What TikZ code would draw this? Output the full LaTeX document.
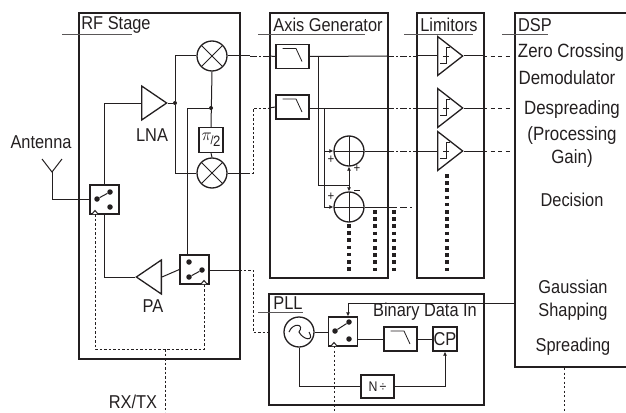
\documentclass[tikz,border=0pt]{standalone}
\usepackage{fontspec}
\setmainfont[FakeStretch=0.88]{Liberation Sans}
\usepackage{xcolor}
\usepackage{tikz}
\usetikzlibrary{arrows.meta,positioning,calc,shapes.geometric}
\definecolor{ink}{HTML}{231F20}
\newcommand{\stepmark}[1]{\draw[line width=0.8pt,shift={(#1.lower side)}] (3,7)--(9,7)--(9,-9)--(13,-9) (6,0)--(12,0);}
\begin{document}
\begin{tikzpicture}[x=1pt,y=-1pt,ink,every node/.style={font=\fontsize{18.6}{20}\selectfont,align=center,text=ink,inner sep=0pt},
stage/.style={draw=ink,line width=2.1pt,anchor=north west},
wire/.style={draw=ink,line width=1pt},
ctrl/.style={draw=ink,line width=0.9pt,dash pattern=on 2.5pt off 2pt},
rule/.style={draw=ink!75,line width=0.9pt},
spots/.style={draw=ink,line width=3.5pt,dash pattern=on 3.5pt off 3.7pt},
tip/.style={-{Latex[length=4pt,width=4pt]}},
part/.style={draw=ink,line width=1.3pt,fill=white},
swbox/.style={part,minimum size=29pt},
swdot/.style={circle,fill=ink,minimum size=5.5pt},
jdot/.style={circle,fill=ink,minimum size=4pt},
filt/.style={part,minimum width=33pt,minimum height=24pt,path picture={\draw[line width=0.8pt,shift={(path picture bounding box.center)}] (-10,-8)--(3.5,-8)--(9.5,5);}},
mixer/.style={circle,part,minimum size=30pt,path picture={\draw[line width=0.8pt,shift={(path picture bounding box.center)}] (-11,-11)--(11,11) (-11,11)--(11,-11);}},
adder/.style={circle,part,fill=none,minimum size=30pt,path picture={\draw[line width=0.8pt,shift={(path picture bounding box.center)}] (-15,0)--(15,0) (0,-15)--(0,15);}},
amp/.style={isosceles triangle,isosceles triangle stretches,draw=ink,line width=1.3pt,fill=white,minimum height=25pt,minimum width=34pt,anchor=lower side},
limit/.style={amp,minimum width=39pt},
dsptext/.style={font=\fontsize{19.2}{22}\selectfont}]
\useasboundingbox (0,0) rectangle (626,412);
% blocks
\node[stage,minimum width=161pt,minimum height=346pt] (rf) at (78,12) {};
\node[stage,minimum width=118pt,minimum height=265pt] (axis) at (269,12) {};
\node[stage,minimum width=67pt,minimum height=265pt] (lim) at (416,12) {};
\node[stage,minimum width=112pt,minimum height=354pt] (dsp) at (514,12) {};
\node[stage,minimum width=215pt,minimum height=111pt] (pll) at (268,293) {};
% titles
\node (rfname) at (116,25) {RF Stage};
\node (axisname) at (328,25) {Axis Generator};
\node (limname) at (449,25) {Limitors};
\node (dspname) at (535,25) {DSP};
\node (pllname) at (288,303) {PLL};
\coordinate (rfa) at (62,34); \coordinate (rfb) at (132,34);
\coordinate (axa) at (258,34); \coordinate (axb) at (365,34);
\coordinate (lia) at (404,34); \coordinate (lib) at (473,34);
\coordinate (dsa) at (502,34); \coordinate (dsb) at (548,34);
\coordinate (pla) at (258,312); \coordinate (plb) at (303,312);
\draw[rule] (rfa)--(rfb);
\draw[rule] (axa)--(axb);
\draw[rule] (lia)--(lib);
\draw[rule] (dsa)--(dsb);
\draw[rule] (pla)--(plb);
% RF parts
\node[mixer] (mixa) at (212,56) {};
\node[mixer] (mixb) at (212,173) {};
\node[part,minimum width=24pt,minimum height=25pt] (shift) at (211,140) {\raisebox{4pt}{\fontsize{16}{16}\selectfont$\pi$}\kern-1pt{\fontsize{12}{12}\selectfont/}\kern-0.5pt\raisebox{-2pt}{\fontsize{15}{15}\selectfont 2}};
\node[amp] (lna) at (141,103) {};
\node[amp,shape border rotate=180] (pa) at (162,277) {};
\node[swbox] (swa) at (104.5,199.5) {};
\node[swbox] (swb) at (194.5,269.5) {};
\node[jdot] (lnadot) at (175,103) {};
\node[jdot] (lodot) at (211,108) {};
\node[swdot] (swaa) at (97,199) {};
\node[swdot] (swab) at (110,192) {};
\node[swdot] (swac) at (110,207) {};
\node[swdot] (swba) at (189,262) {};
\node[swdot] (swbb) at (189,277) {};
\node[swdot] (swbc) at (202,270) {};
\node (antname) at (41,142) {Antenna};
\node (lnaname) at (152,135) {LNA};
\node (paname) at (153,306) {PA};
\node (rxname) at (133,401.5) {RX/TX};
\coordinate (anta) at (42,159); \coordinate (antb) at (52,172); \coordinate (antc) at (62,159);
\coordinate (lobot) at (187,255);
\draw[wire] (anta)--(antb)--(antc);
\draw[wire] (antb)|-(swa.west);
\draw[wire] (swaa)--(swab);
\draw[wire] (swbb)--(swbc);
\draw[wire] (swa.north)|-(lna.lower side);
\draw[wire] (lna.apex)--(lnadot);
\draw[wire] (lnadot)|-(mixa.west);
\draw[wire] (lnadot)|-(mixb.west);
\draw[wire] (mixa.south)--(shift.north);
\draw[wire] (shift.south)--(mixb.north);
\draw[wire] (lodot)-|(lobot);
\draw[wire] (swa.south)|-(pa.apex);
\draw[wire] (pa.lower side)--(swb.west);
% control lines
\coordinate (swamark) at (95,214); \coordinate (swbmark) at (204,284);
\coordinate (swcmark) at (334,346);
\draw[wire,fill=white] (92,214)--(95,210.5)--(98,214);
\draw[wire,fill=white] (201,284)--(204,280.5)--(207,284);
\coordinate (ctrla) at (95,349); \coordinate (ctrlb) at (204,349);
\coordinate (ctrlc) at (165,349); \coordinate (ctrld) at (165,412);
\draw[ctrl] (swamark)--(ctrla)--(ctrlb)--(swbmark);
\draw[ctrl] (ctrlc)--(ctrld);
% I and Q to axis generator
\node[filt] (filta) at (292.5,56.5) {};
\node[filt] (filtb) at (292.5,107) {};
\coordinate (ia) at (250,56); \coordinate (ib) at (269,56);
\draw[wire] (mixa.east)--(ia);
\draw[ctrl,dash pattern=on 7pt off 2pt on 2pt off 2pt] (ia)--(ib);
\draw[wire] (ib)--(filta.west);
\coordinate (qa) at (247,173); \coordinate (qb) at (253,173); \coordinate (qc) at (253,108); \coordinate (qd) at (269,108);
\draw[wire] (mixb.east)--(qa);
\draw[ctrl] (qa)--(qb)--(qc)--(qd);
\draw[wire] (qd)--(filtb.west);
\coordinate (ra) at (239,270); \coordinate (rb) at (253,270); \coordinate (rc) at (253,332); \coordinate (rd) at (268,332);
\draw[wire] (swb.east|-ra)--(ra);
\draw[ctrl] (ra)--(rb)--(rc)--(rd);
% adders
\node[adder] (suma) at (349,151) {};
\node[adder] (sumb) at (349,207) {};
\coordinate (fa) at (318,56); \coordinate (fb) at (324,108); \coordinate (fc) at (318,185); \coordinate (fd) at (349,185);
\coordinate (fe) at (324,207); \coordinate (ff) at (324,151);
\draw[wire] (fa)--(fc)--(fd);
\draw[wire,tip] (fd)--(suma.south);
\draw[wire,tip] (fd)--(sumb.north);
\draw[wire] (fb)--(fe);
\draw[wire,tip] (ff)--(suma.west);
\draw[wire,tip] (fe)--(sumb.west);
\node[font=\fontsize{13}{13}\selectfont] (plusa) at (331,160) {+};
\node[font=\fontsize{13}{13}\selectfont] (plusb) at (357,169) {+};
\node[font=\fontsize{13}{13}\selectfont] (plusc) at (331,197) {+};
\node (minusa) at (357,190.5) {\rule{6pt}{0.8pt}};
% limiters
\node[limit] (lima) at (437,56) {};
\node[limit] (limb) at (437,108) {};
\node[limit] (limc) at (437,151) {};
\stepmark{lima}
\stepmark{limb}
\stepmark{limc}
\coordinate (oa) at (387,56); \coordinate (ob) at (416,56);
\coordinate (pa1) at (387,108); \coordinate (pb1) at (416,108);
\coordinate (qa1) at (387,151); \coordinate (qb1) at (416,151);
\draw[wire] (filta.east)--(oa);
\draw[ctrl,dash pattern=on 7pt off 2pt on 2pt off 2pt] (oa)--(ob);
\draw[wire] (ob)--(lima.lower side);
\draw[wire] (filtb.east|-pa1)--(pa1);
\draw[ctrl,dash pattern=on 7pt off 2pt on 2pt off 2pt] (pa1)--(pb1);
\draw[wire] (pb1)--(limb.lower side);
\draw[wire] (suma.east)--(qa1);
\draw[ctrl,dash pattern=on 7pt off 2pt on 2pt off 2pt] (qa1)--(qb1);
\draw[wire] (qb1)--(limc.lower side);
\coordinate (ua) at (390,207); \coordinate (ub) at (412,207);
\draw[wire] (sumb.east)--(ua);
\draw[ctrl,dash pattern=on 7pt off 3pt] (ua)--(ub);
% outputs to the dsp
\coordinate (da) at (483,56); \coordinate (db) at (512,56);
\coordinate (dc) at (483,108); \coordinate (dd) at (512,108);
\coordinate (de) at (483,151); \coordinate (df) at (512,151);
\draw[wire] (lima.apex)--(da);
\draw[ctrl,dash pattern=on 4pt off 3.5pt] (da)--(db);
\draw[wire] (limb.apex)--(dc);
\draw[ctrl,dash pattern=on 4pt off 3.5pt] (dc)--(dd);
\draw[wire] (limc.apex)--(de);
\draw[ctrl,dash pattern=on 4pt off 3.5pt] (de)--(df);
% dotted columns
\coordinate (spa) at (349,224); \coordinate (spb) at (349,273);
\coordinate (spc) at (375,210); \coordinate (spd) at (375,273);
\coordinate (spe) at (394,210); \coordinate (spf) at (394,273);
\coordinate (spg) at (447,174); \coordinate (sph) at (447,272);
\draw[spots] (spa)--(spb);
\draw[spots] (spc)--(spd);
\draw[spots] (spe)--(spf);
\draw[spots] (spg)--(sph);
% dsp text
\node[dsptext] (zero) at (571,53) {Zero Crossing};
\node[dsptext] (demod) at (567,78) {Demodulator};
\node[dsptext] (desp) at (572,110) {Despreading};
\node[dsptext] (proc) at (572,136) {(Processing};
\node[dsptext] (gain) at (572,159) {Gain)};
\node (decis) at (572,200) {Decision};
\node (gauss) at (573,287) {Gaussian};
\node (shapp) at (573,312) {Shapping};
\node (sprea) at (573,347) {Spreading};
% PLL
\node[circle,part,minimum size=30pt] (vco) at (299,332) {};
\draw[wire] (vco.center)++(-10,0) .. controls +(4,-10) and +(6,-8) .. (vco.center) .. controls +(4,8) and +(6,10) .. ++(10,0);
\node[swbox] (swc) at (343,331.5) {};
\node[swdot] (swca) at (335,331) {};
\node[swdot] (swcb) at (349,322) {};
\node[swdot] (swcc) at (349,339) {};
\node[filt] (filtc) at (400.5,339) {};
\node[part,minimum width=24pt,minimum height=24pt] (cp) at (445,339) {CP};
\node[part,minimum width=33pt,minimum height=23pt,font=\fontsize{14}{14}\selectfont] (ndiv) at (377.5,386.5) {N\,÷};
\node (binname) at (425,312) {Binary Data In};
\draw[wire,fill=white] (331,346)--(334,342.5)--(337,346);
\draw[wire] (swca)--(swcb);
\draw[wire] (vco.east)--(swc.west|-vco.east);
\draw[wire] (swc.east|-swcc)--(filtc.west);
\draw[wire] (filtc.east)--(cp.west);
\draw[wire] (vco.south)|-(ndiv.west);
\draw[wire,tip] (ndiv.east)-|(cp.south);
\coordinate (bina) at (514,303); \coordinate (binb) at (348,303);
\draw[wire,tip] (bina)--(binb)--(swc.north-|binb);
\coordinate (swcend) at (334,412);
\coordinate (dspa) at (564,368); \coordinate (dspb) at (564,412);
\draw[ctrl,dash pattern=on 2pt off 2.5pt] (swcmark)--(swcend);
\draw[ctrl,dash pattern=on 2pt off 2.5pt] (dspa)--(dspb);
\end{tikzpicture}
\end{document}
